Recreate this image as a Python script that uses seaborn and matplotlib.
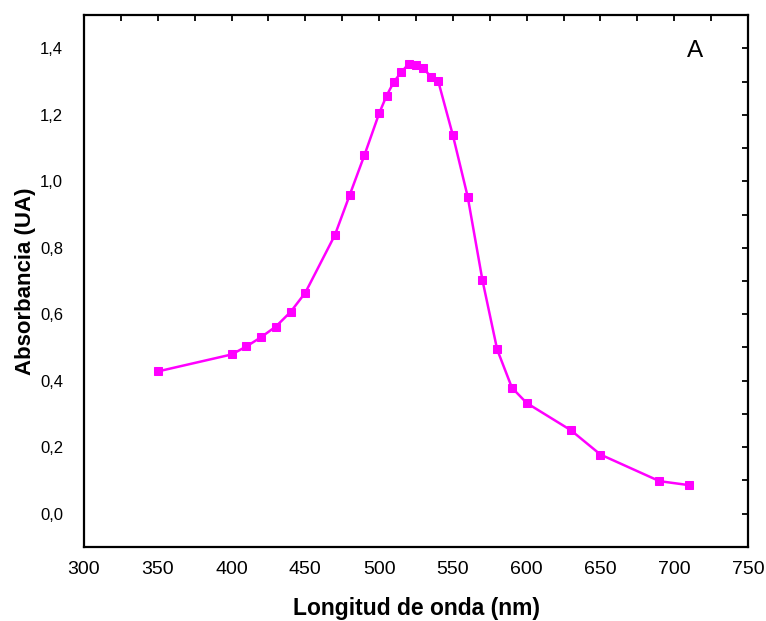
import matplotlib
matplotlib.use('Agg')
import matplotlib.pyplot as plt
import seaborn as sns
import pandas as pd
from matplotlib.ticker import MultipleLocator, FuncFormatter, NullFormatter

# Data
wavelength = [350, 400, 410, 420, 430, 440, 450, 470, 480, 490, 500, 505, 510, 515,
              520, 525, 530, 535, 540, 550, 560, 570, 580, 590, 600, 630, 650, 690, 710]
absorbance = [0.428, 0.479, 0.503, 0.531, 0.563, 0.607, 0.665, 0.838, 0.958, 1.078,
              1.204, 1.257, 1.299, 1.328, 1.353, 1.351, 1.342, 1.313, 1.302, 1.138,
              0.954, 0.703, 0.494, 0.379, 0.333, 0.251, 0.178, 0.098, 0.086]

df = pd.DataFrame({'Longitud': wavelength, 'Absorbancia': absorbance})

sns.set_style('white')
plt.rcParams['font.family'] = ['Liberation Sans', 'DejaVu Sans']

fig = plt.figure(figsize=(7.66, 6.21), dpi=100)
ax = fig.add_axes([0.1097, 0.1192, 0.8668, 0.8566])

sns.lineplot(data=df, x='Longitud', y='Absorbancia', color='#FF00FF', linewidth=1.8,
             marker='s', markersize=6, markeredgecolor='#FF00FF', ax=ax)

ax.set_xlim(300, 750)
ax.set_ylim(-0.1, 1.5)
ax.xaxis.set_major_locator(MultipleLocator(50))
ax.xaxis.set_minor_locator(MultipleLocator(25))
ax.yaxis.set_major_locator(MultipleLocator(0.2))
ax.yaxis.set_minor_locator(MultipleLocator(0.1))
ax.yaxis.set_major_formatter(FuncFormatter(lambda v, p: f'{v:.1f}'.replace('.', ',').replace('-0,0', '0,0')))

ax.tick_params(which='both', direction='in', colors='black', width=1.3)
ax.tick_params(which='major', length=10)
ax.tick_params(which='minor', length=4)
ax.tick_params(axis='x', labelsize=14, pad=10)
ax.tick_params(axis='y', labelsize=12, pad=15)

# short ticks only on top and right
top = ax.secondary_xaxis('top')
top.xaxis.set_major_locator(MultipleLocator(25))
top.xaxis.set_major_formatter(NullFormatter())
top.tick_params(direction='in', length=4, width=1.3, colors='black')
right = ax.secondary_yaxis('right')
right.yaxis.set_major_locator(MultipleLocator(0.1))
right.yaxis.set_major_formatter(NullFormatter())
right.tick_params(direction='in', length=4, width=1.3, colors='black')
for sec in (top, right):
    for s in sec.spines.values():
        s.set_visible(False)

for s in ax.spines.values():
    s.set_color('black')
    s.set_linewidth(1.6)

ax.set_xlabel('Longitud de onda (nm)', fontsize=16.5, fontweight='bold', color='black', labelpad=14)
ax.set_ylabel('Absorbancia (UA)', fontsize=16, fontweight='bold', color='black', labelpad=3)
ax.text(714, 1.393, 'A', fontsize=17.5, ha='center', va='center', color='black')

fig.savefig('out.png', dpi=100)
